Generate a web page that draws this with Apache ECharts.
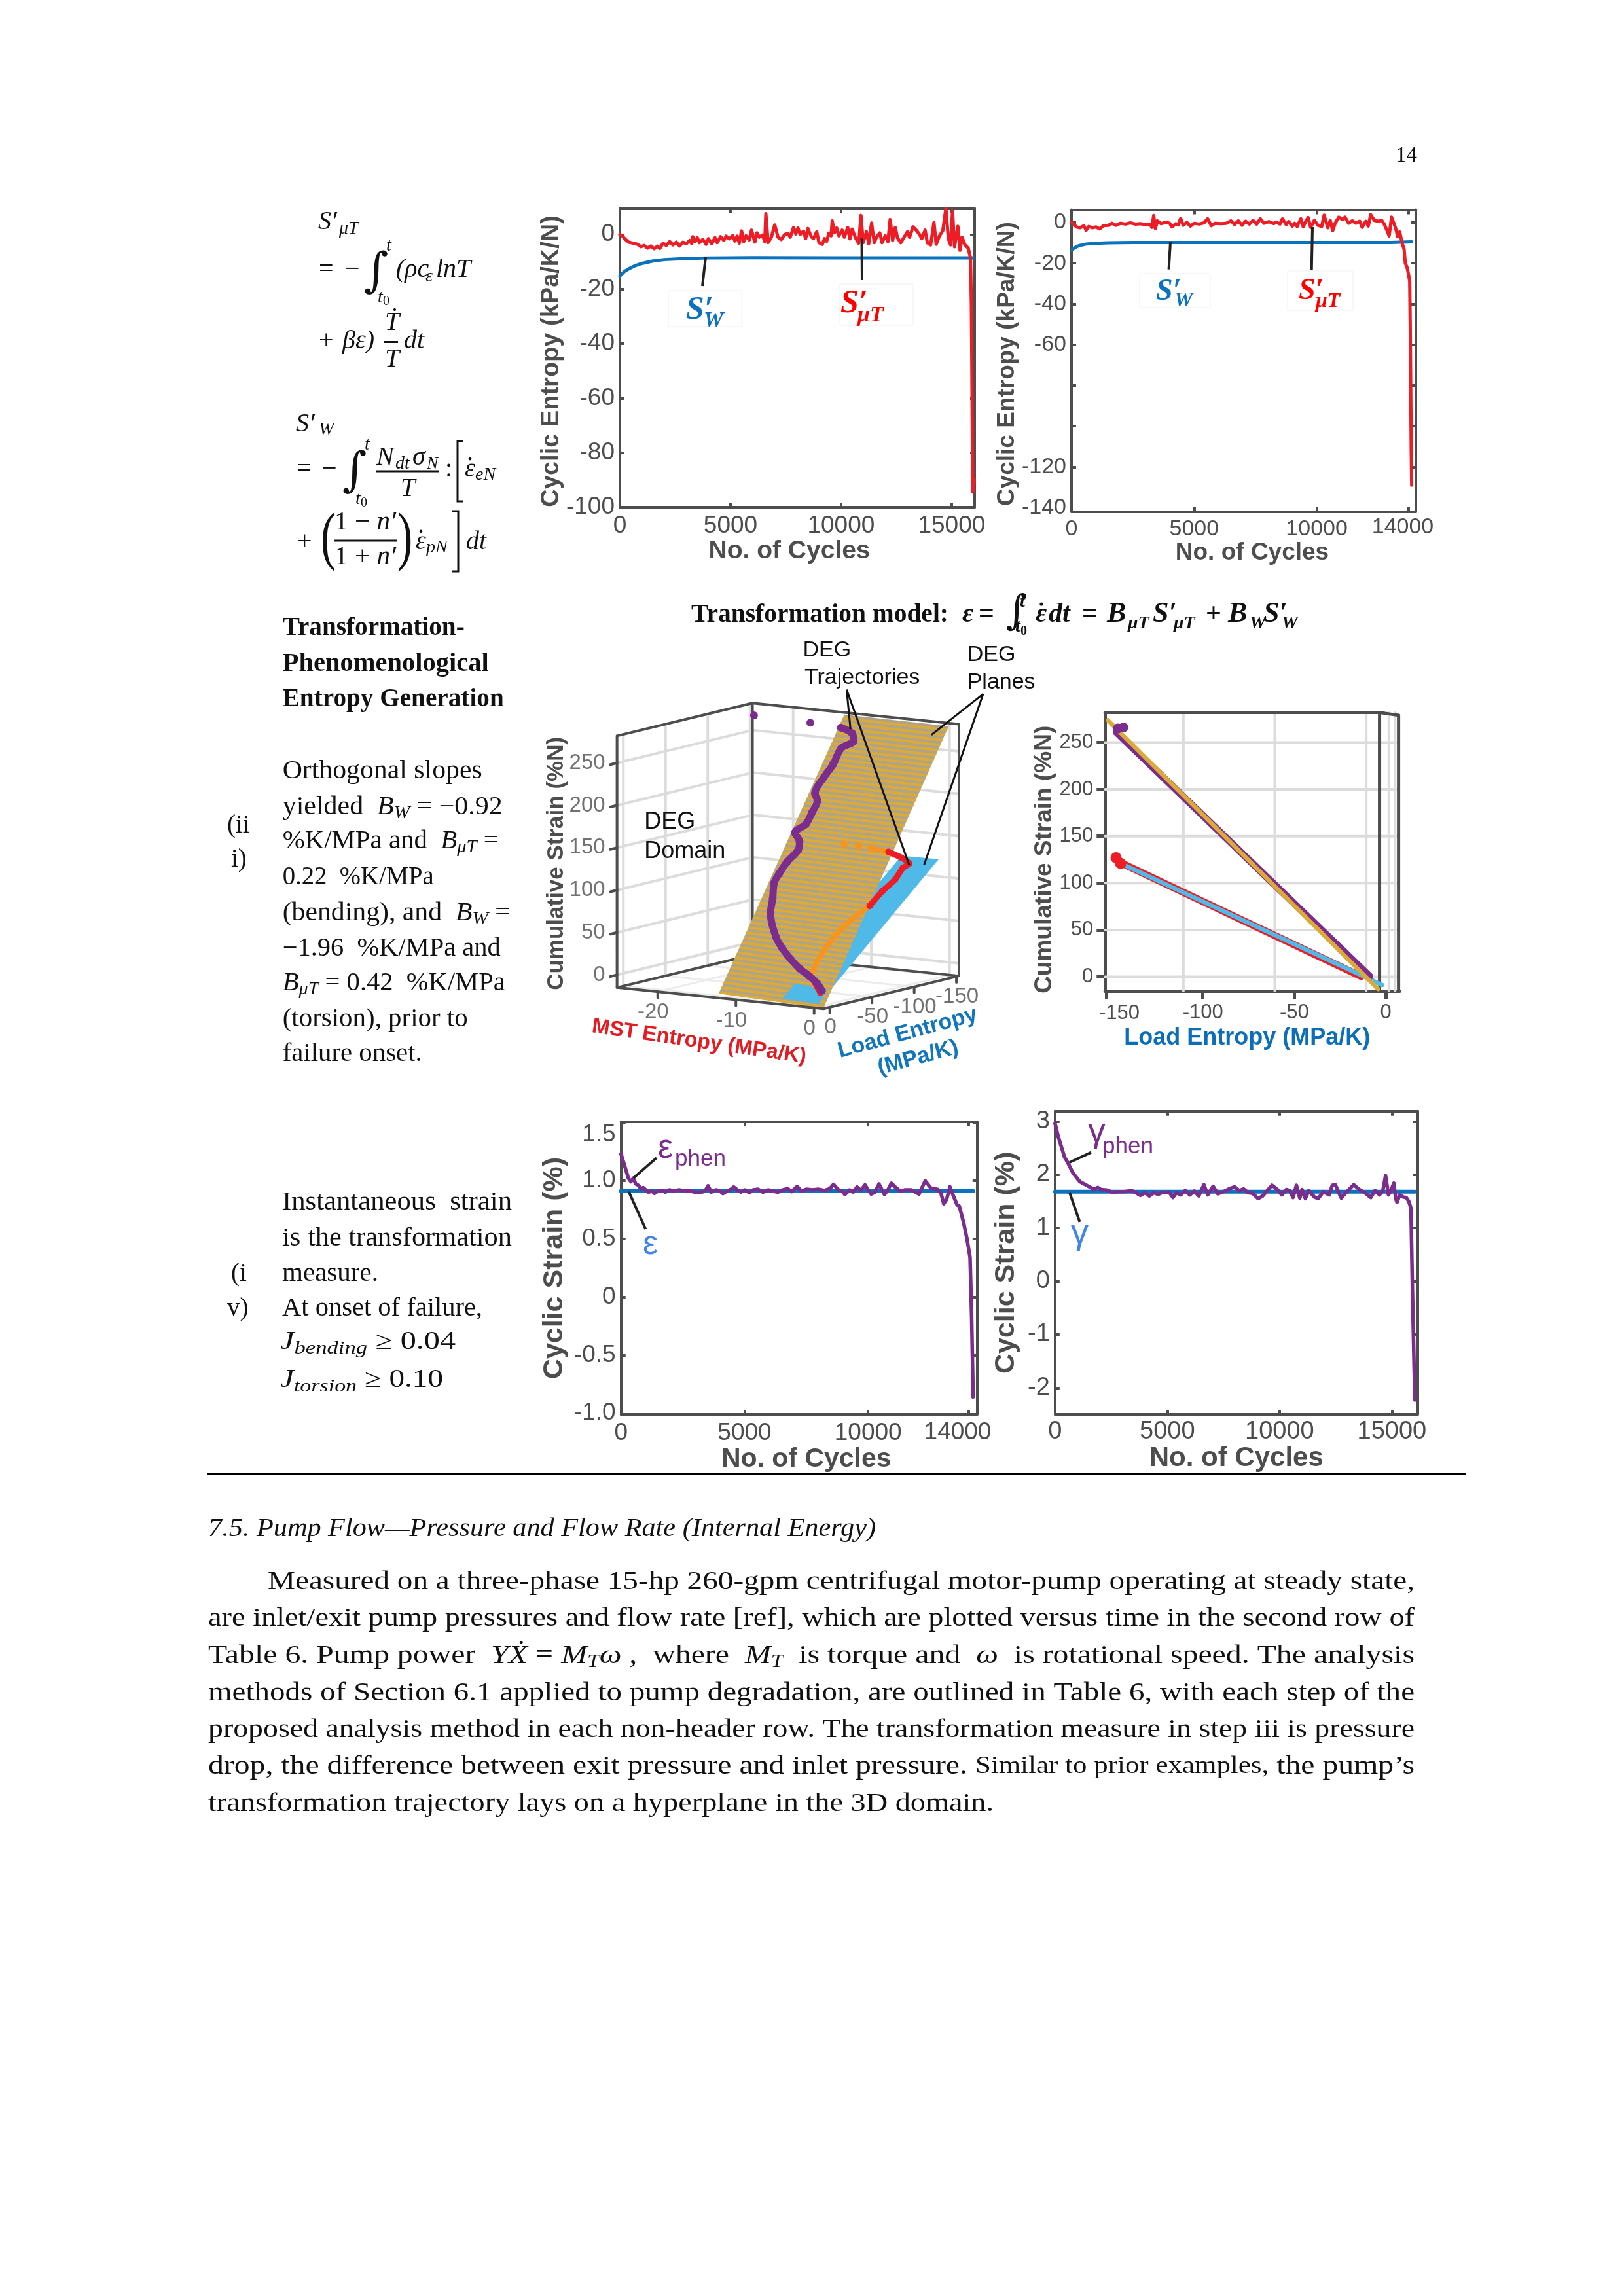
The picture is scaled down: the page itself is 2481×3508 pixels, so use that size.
<!DOCTYPE html>
<html><head><meta charset="utf-8">
<style>html,body{margin:0;padding:0;background:#fff}#c{width:2481px;height:3508px}</style>
<script src="https://cdn.jsdelivr.net/npm/echarts@6/dist/echarts.min.js"></script>
</head><body><div id="c"></div>
<script>
/* ---------- DATA ---------- */
const c1Cycles=[0,100,250,400,600,800,950,1100,1250,1400,1550,1700,1800,1950,2100,2250,2400,2550,2700,2850,3000,3150,3250,3300,3400,3500,3600,3750,3900,4000,4150,4300,4400,4550,4700,4800,4950,5100,5200,5300,5400,5500,5600,5700,5850,5950,6100,6200,6300,6450,6550,6600,6700,6850,7000,7150,7300,7450,7600,7700,7850,7950,8050,8150,8300,8400,8500,8650,8750,8900,9000,9150,9250,9350,9450,9550,9600,9700,9800,9900,10050,10150,10300,10400,10500,10650,10800,10900,11000,11150,11250,11380,11500,11600,11750,11850,12000,12120,12220,12330,12450,12550,12700,12850,13000,13100,13250,13400,13550,13650,13800,13900,14050,14200,14300,14450,14600,14740,14850,14950,15040,15130,15280,15380,15470,15600,15750,15850,15890,15915,15935,15955,16025];
const c1Mst=[0,-0.5,-1.8,-2.8,-3.2,-3.6,-4.5,-4,-5,-4.2,-5.2,-4.3,-5.1,-3.2,-4,-2.6,-3.8,-2.8,-4.2,-2.8,-3.4,-2.2,-3.4,-0.8,-2.6,-1.2,-3,-1.8,-3.6,-1.5,-3.4,-1.2,-3,-0.8,-2.2,-0.6,-1.6,-0.4,-2.4,-0.6,-3.2,1.3,-2.6,-0.5,-2,1.6,-2.8,0.6,-1,-0.2,-2.6,7.6,-3,-1,3.5,-1,-1.8,0,0.4,-1,2.6,0.2,2.4,0,1.2,-1.5,2.2,-0.8,-1.5,1,-3,-3.6,-1.5,-2.5,0.5,-0.5,5,0.6,2.4,-0.5,1.6,-1,2.6,-1.6,2,-1.2,-3.2,7,-3,1,-3.4,4.2,-3,-1,0.6,-3,-0.5,-2.6,5.5,-2.2,2.6,-1.2,-3,-1,1,-1,2.8,1.6,0,-1.5,1.6,-3,-3.8,4.4,-3.6,-0.5,1.4,9.5,-1.5,-3.8,8.5,-4.5,3,-5.8,-1,-3.8,-5,-8.5,-25,-50,-76,-94.5,-90];
const c1LoadCycles=[0,200,400,700,1000,1500,2000,3000,4000,6000,10000,15990];
const c1Load=[-15.2,-13.6,-12.6,-11.4,-10.6,-9.7,-9.2,-8.8,-8.6,-8.5,-8.6,-8.6];

const c2Cycles=[0,100,200,350,500,600,700,850,1000,1150,1300,1500,1650,1800,2000,2200,2400,2600,2800,3000,3200,3280,3350,3420,3500,3650,3850,4000,4100,4250,4350,4450,4550,4700,4850,5000,5200,5400,5550,5700,5850,6100,6300,6500,6650,6800,6950,7100,7250,7400,7550,7700,7850,8050,8250,8350,8500,8600,8750,8850,9000,9100,9200,9350,9450,9550,9650,9750,9900,10050,10200,10300,10450,10550,10650,10750,10900,11050,11150,11300,11450,11600,11750,11850,12000,12100,12200,12350,12500,12650,12750,12880,12950,13050,13150,13220,13300,13380,13450,13500,13560,13610,13680,13750,13790,13810,13830,13850,13870];
const c2Mst=[0,-1,-2.2,-2.6,-1.6,-3.8,-2,-2.6,-2.2,-3.2,-1.6,-1.4,-0.4,-1.4,-0.4,-0.8,-0.2,-0.8,-0.6,-1,-0.8,-2.4,3.4,-3,0.8,-0.6,0.2,-0.4,-2.2,-0.6,-1.2,2,-1.4,0,-1.8,-0.4,-0.8,-0.2,1.8,-1.6,-0.4,-0.6,-0.4,0.8,-1,0.8,-1.4,0.6,-0.8,1,-0.8,1.8,-0.4,0.4,-0.6,0.2,-0.8,1.8,-1,0.4,-1.8,-0.4,-2,1.8,-2.2,0.6,2.4,-2.4,1,-1.4,-2,3.6,-2.6,1,-4,-0.4,2.6,1.4,2.6,-0.4,0.8,-0.4,0.6,-2.4,0.6,-1.8,3.8,1,0.6,1,-0.8,-4.4,-6.6,2.6,-0.6,-3,-7,-4.6,-8.5,-11,-13,-20,-22,-26,-29,-50,-80,-110,-129];
const c2LoadCycles=[0,100,300,600,1000,1500,2500,5000,10000,13000,13870];
const c2Load=[-13.6,-12.6,-11.4,-10.6,-10.2,-10,-9.8,-9.8,-9.8,-9.8,-9.5];

const c5Cycles=[0,100,200,300,400,500,600,700,800,900,1000,1100,1250,1350,1500,1700,1800,1950,2150,2350,2600,2800,3000,3250,3400,3525,3650,3850,4000,4125,4300,4450,4560,4700,4850,5000,5200,5350,5550,5750,5950,6150,6350,6550,6750,6900,7125,7300,7500,7750,8000,8250,8450,8600,8800,8950,9060,9250,9400,9550,9700,9875,10000,10125,10280,10440,10660,10800,10940,11120,11310,11500,11750,12060,12310,12540,12810,12950,13060,13180,13310,13460,13600,13690,13875,14000,14125,14190,14250];
const c5Phen=[1.23,1.16,1.09,1.02,0.99,1.02,0.97,0.96,0.93,0.94,0.92,0.9,0.91,0.89,0.91,0.91,0.9,0.92,0.91,0.92,0.91,0.91,0.9,0.9,0.91,0.956,0.9,0.92,0.91,0.888,0.91,0.925,0.945,0.92,0.9,0.92,0.895,0.92,0.925,0.9,0.92,0.91,0.9,0.92,0.93,0.905,0.95,0.91,0.925,0.92,0.925,0.915,0.93,0.967,0.92,0.91,0.88,0.92,0.9,0.945,0.915,0.963,0.92,0.884,0.9,0.971,0.88,0.92,0.977,0.94,0.908,0.92,0.92,0.884,0.998,0.935,0.925,0.89,0.8,0.84,0.946,0.863,0.79,0.78,0.63,0.5,0.34,-0.18,-0.86];
const c5StrainCycles=[0,14250];
const c5Strain=[0.91,0.91];

const c6Cycles=[0,150,300,420,560,800,1100,1400,1750,1900,2050,2300,2600,2800,3100,3400,3600,3800,4000,4200,4400,4600,4800,5100,5250,5400,5600,5800,6000,6200,6400,6630,6800,7040,7250,7500,7800,8000,8200,8400,8600,8800,9040,9250,9450,9660,9900,10100,10300,10450,10600,10750,10900,11000,11150,11300,11550,11720,11950,12200,12350,12480,12750,12950,13300,13550,13800,14060,14250,14450,14600,14720,14850,14950,15090,15170,15230,15350,15500,15640,15750,15850,15920,15990,16030];
const c6Phen=[2.96,2.7,2.5,2.33,2.23,2.03,1.87,1.8,1.72,1.76,1.72,1.71,1.66,1.68,1.68,1.7,1.66,1.61,1.66,1.6,1.66,1.63,1.67,1.66,1.57,1.66,1.62,1.7,1.62,1.69,1.6,1.81,1.62,1.78,1.64,1.68,1.74,1.77,1.7,1.73,1.66,1.65,1.55,1.6,1.7,1.8,1.72,1.62,1.72,1.7,1.57,1.8,1.56,1.72,1.55,1.7,1.58,1.55,1.68,1.62,1.8,1.81,1.56,1.66,1.81,1.72,1.66,1.57,1.7,1.62,1.7,1.98,1.62,1.7,1.84,1.55,1.48,1.62,1.58,1.57,1.5,1.37,-0.23,-1.6,-2.23];
const c6StrainCycles=[0,16030];
const c6Strain=[1.68,1.68];

/* 3-D chart: MST entropy, load entropy, cumulative strain */
const bendPhenMst=[-0.76,-1.75,-3.13,-4.7,-6.43,-7.97,-9.4,-11.36,-11.9,-12.6,-12.5,-12.2,-11.5,-11.8,-12.85,-12,-11.9,-11.9,-12.6,-12.4,-12,-11.9,-10.8,-11.4,-13.1];
const bendPhenLoad=[-8.8,-12.3,-15.7,-19,-23.7,-28.6,-34.2,-46.1,-53.7,-62,-66.9,-73.3,-80,-84.6,-88.9,-94,-100.3,-106.7,-110.3,-119,-126.4,-135,-139.5,-143.2,-145.6];
const bendPhenStrain=[0.6,7.4,13.9,20.3,29.5,39,50,73,87.8,104,113.4,125.9,138.8,147.7,156,166,178.3,190.6,197.6,214.7,228.8,245.8,254.4,261.6,266.3];
const strayMst=[-24.4,-17.1], strayLoad=[-147.4,-146.5], strayStrain=[269.6,268];
const torsMst=[-0.96,-3.82,-4.62,-4.97,-4.66,-3.85,-3.82,-3.48,-3.7,-3.4,-4.9,-7,-9.4,-11.1,-13];
const torsLoad=[-8.8,-24,-40.8,-61,-78.8,-94,-108.6,-120.6,-132,-136.7,-141.4,-145.5,-147.3,-148,-148.5];
const torsStrain=[-3,11.3,27.1,46,62.8,77,90.8,102,112.9,117.2,121.6,125.5,127.2,127.9,128.3];
const goldPlane=[[-13.2,-1.8,-13],[0.4,0.15,-16.8],[0,-152,278.8],[-13.4,-152.6,279.8]];
const bluePlane=[[-4.92,-0.4,-10.9],[-0.13,0.8,-12],[-0.36,-143.5,123.6],[-5.1,-143.2,123.3]];
const bluePlaneFront=[[-4.92,-0.4,-10.9],[-0.13,0.8,-12],[-0.5,-12,0],[-4.96,-15.8,3.6]];
const mstTicks=[-20,-10,0], loadTicks=[0,-50,-100,-150], strainTicks=[0,50,100,150,200,250];
const mstRange=[-25.2,1.2], loadRange=[-153,7.5], strainRange=[-15,282];

/* 2-D projection chart: load entropy versus strain */
const planeLoadPurple=[-147.3,-8.8], planeStrainPurple=[261,0.5];
const planeLoadGold=[-152,-4.2], planeStrainGold=[273.7,-13];
const planeLoadRed=[-143.5,-13.5], planeStrainRed=[120.5,0.5];
const planeLoadBlue=[-142.7,-1.9], planeStrainBlue=[119,-8.7];
const purpleEnd=[[-146.5,265],[-143.5,266]], redEnd=[[-147.5,127],[-145,121]];
const c4GridX=[-110.7,-60.7,-10.7,1.7,5.1], c4GridY=[0,50,100,150,200,250];

/* ---------- HELPERS ---------- */
const INK='#4d4d4d', SANS='"Liberation Sans"', SERIF='"Liberation Serif"';
const RED='#ee1c25', BLUE='#0b72bd', PURPLE='#7b2d8e', GOLD='#dcaa36', SKY='#4fb9e8', ORANGE='#f7941d', GRIDC='#dcdcdc';
const BASE=0.25;
const grids=[],xAxes=[],yAxes=[],series=[],gfx=[];
const mctx=document.createElement('canvas').getContext('2d');
const zip=(a,b)=>a.map((v,i)=>[v,b[i]]);
function measure(t,font){mctx.font=font;return mctx.measureText(t).width;}
function T(t,x,y,o={}){ // y is the vertical centre
  gfx.push({type:'text',silent:true,z:o.z||50,x,y,rotation:o.rot||0,scaleX:o.sx||1,
    style:{text:t,font:`${o.style||''} ${o.size||36}px ${o.family||SANS}`,fill:o.color||INK,align:o.align||'center',verticalAlign:'middle'}});
}
function B(t,x,base,size,style='italic',o={}){ // baseline text, serif
  T(t,x,base-BASE*size,Object.assign({size,style,family:SERIF,color:'#111',align:'left'},o));
}
function runs(list,x,base,width,size){ // list: [text,style,relSize,dy]
  const fonts=list.map(r=>`${r[1]||''} ${size*(r[2]||1)}px ${SERIF}`);
  const ws=list.map((r,i)=>measure(r[0],fonts[i]));
  const tot=ws.reduce((a,b)=>a+b,0), sx=width?width/tot:1;
  let cx=x;
  list.forEach((r,i)=>{const s=size*(r[2]||1);
    T(r[0],cx,base+(r[3]||0)-BASE*s,{size:s,style:r[1]||'',family:SERIF,color:'#111',align:'left',sx});
    cx+=ws[i]*sx;});
}
function L(x1,y1,x2,y2,color='#111',w=3,z=40){
  gfx.push({type:'line',silent:true,z,shape:{x1,y1,x2,y2},style:{stroke:color,lineWidth:w}});
}
function dotAbove(x,y,r=2.4){
  gfx.push({type:'circle',silent:true,z:50,shape:{cx:x,cy:y,r},style:{fill:'#111'}});
}
function panel(c){
  const g=grids.length, ls={color:INK,width:c.frame||4};
  grids.push({left:c.box[0],top:c.box[1],width:c.box[2]-c.box[0],height:c.box[3]-c.box[1],show:false});
  const ax=(dim,pos,main)=>{
    const a={gridIndex:g,type:'value',position:pos,min:c[dim+'Range'][0],max:c[dim+'Range'][1],
      splitLine:{show:false},
      axisLine:{show:true,onZero:false,lineStyle:ls},
      axisTick:{show:true,inside:!c.outward,length:c.outward?13:7,lineStyle:ls,customValues:c[dim+'Ticks']},
      axisLabel:{show:main,margin:c[dim+'Margin'],fontFamily:SANS,fontSize:c.tick,color:INK,customValues:c[dim+'Labels'],
        formatter:c[dim+'Fmt']||(v=>String(v)),hideOverlap:false}};
    if(main && dim==='y' && c.topAlign) a.axisLabel.verticalAlignMaxLabel='top';
    if(main){
      const sh=c[dim+'Shift']||0;
      a.name=c[dim+'Name'];a.nameLocation='middle';a.nameGap=c[dim+'Gap'];
      a.nameTextStyle={fontFamily:SANS,fontWeight:'bold',fontSize:c[dim+'Size'],color:c[dim+'Color']||INK,
        padding:dim==='x'?(sh>0?[0,0,0,2*sh]:[0,-2*sh,0,0]):[0,2*sh,0,0]};
    }
    return a;
  };
  xAxes.push(ax('x','bottom',true)); yAxes.push(ax('y','left',true));
  if(!c.noMirror){xAxes.push(ax('x','top',false)); yAxes.push(ax('y','right',false));}
  return {x:xAxes.length-(c.noMirror?1:2),y:yAxes.length-(c.noMirror?1:2)};
}
function lineS(ids,data,color,width,z=5,extra={}){
  series.push(Object.assign({type:'line',xAxisIndex:ids.x,yAxisIndex:ids.y,data,showSymbol:false,symbol:'none',silent:true,
    clip:false,z,lineStyle:{color,width,cap:'round',join:'round'},animation:false},extra));
}
function dotsS(ids,data,color,size,z=6,opacity=1){
  series.push({type:'scatter',xAxisIndex:ids.x,yAxisIndex:ids.y,data,symbol:'circle',symbolSize:size,silent:true,clip:false,z,
    itemStyle:{color,opacity},animation:false});
}

/* ---------- PANEL 1 ---------- */
const p1=panel({box:[947,318.7,1489,775],xRange:[0,16040],yRange:[-100,9.5],
  xTicks:[0,5000,10000,15000],xLabels:[0,5000,10000,15000],yTicks:[-100,-80,-60,-40,-20,0],yLabels:[-100,-80,-60,-40,-20,0],
  tick:37,xMargin:10,yMargin:8,xName:'No. of Cycles',xGap:44,xSize:39,xShift:-12,yName:'Cyclic Entropy (kPa/K/N)',yGap:75,ySize:38,yShift:5});
lineS(p1,zip(c1LoadCycles,c1Load),BLUE,5,5);
lineS(p1,zip(c1Cycles,c1Mst),RED,5,6);

/* ---------- PANEL 2 ---------- */
const p2=panel({box:[1637,320.6,2163,781.8],xRange:[0,14040],yRange:[-142,6.2],
  xTicks:[0,5000,10000,13730],xLabels:[0,5000,10000],yTicks:[-120,-100,-80,-60,-40,-20,0],yLabels:[-140,-120,-60,-40,-20,0],
  tick:34,xMargin:10,yMargin:8,xName:'No. of Cycles',xGap:37,xSize:37,xShift:13,yName:'Cyclic Entropy (kPa/K/N)',yGap:65,ySize:37,yShift:5});
lineS(p2,zip(c2LoadCycles,c2Load),BLUE,5,5);
lineS(p2,zip(c2Cycles,c2Mst),RED,5,6);
T('14000',2143,806,{size:34});

/* ---------- PANEL 5 ---------- */
const p5=panel({box:[948.7,1714,1492.8,2161],xRange:[0,14412],yRange:[-1.01,1.505],
  xTicks:[0,5000,10000,14060],xLabels:[0,5000,10000],yTicks:[-0.5,0,0.5,1,1.5],yLabels:[-1,-0.5,0,0.5,1,1.5],
  yFmt:v=>v===0?'0':v.toFixed(1),topAlign:true,tick:37,xMargin:10,yMargin:8,
  xName:'No. of Cycles',xGap:37,xSize:41,xShift:11,yName:'Cyclic Strain (%)',yGap:80,ySize:43});
lineS(p5,zip(c5StrainCycles,c5Strain),BLUE,6,5);
lineS(p5,zip(c5Cycles,c5Phen),PURPLE,5.5,6);
T('14000',1463,2189,{size:37});

/* ---------- PANEL 6 ---------- */
const p6=panel({box:[1611.8,1697.8,2165.8,2161],xRange:[0,16150],yRange:[-2.5,3.19],
  xTicks:[0,5000,10000,15000],xLabels:[0,5000,10000,15000],yTicks:[-2,-1,0,1,2,3],yLabels:[-2,-1,0,1,2,3],
  tick:38,xMargin:8,yMargin:8,xName:'No. of Cycles',xGap:37,xSize:42,yName:'Cyclic Strain (%)',yGap:53,ySize:43});
lineS(p6,zip(c6StrainCycles,c6Strain),BLUE,6,5);
lineS(p6,zip(c6Cycles,c6Phen),PURPLE,5.5,6);

/* ---------- PANEL 4 (projection) ---------- */
const p4=panel({box:[1688.3,1088.6,2138,1514],xRange:[-153.5,7.5],yRange:[-15,282],noMirror:true,outward:true,frame:5,
  xTicks:[-152.7,-100,-50,0],xLabels:[-100,-50,0],yTicks:[0,50,100,150,200,250],yLabels:[0,50,100,150,200,250],
  tick:31,xMargin:18,yMargin:18,xName:'Load Entropy (MPa/K)',xGap:54,xSize:36,xShift:-8,xColor:'#0b6fb8',
  yName:'Cumulative Strain (%N)',yGap:74,ySize:37,yShift:12});
c4GridY.forEach(v=>lineS(p4,[[-153.5,v],[6.5,v]],GRIDC,4,1));
c4GridX.forEach(v=>lineS(p4,[[v,-15],[v,282]],GRIDC,4,1));
lineS(p4,[[-153.5,282],[-3.4,282]],INK,5,3);
lineS(p4,[[-3.4,-15],[-3.4,282]],INK,5,3);
lineS(p4,[[-3.4,282],[7,279]],INK,5,3);
lineS(p4,[[7,279],[7,-15]],INK,5,3);
lineS(p4,zip(planeLoadRed,planeStrainRed),RED,11,5);
lineS(p4,zip(planeLoadBlue,planeStrainBlue),SKY,6.5,6);
lineS(p4,zip(planeLoadPurple,planeStrainPurple),PURPLE,11,7);
lineS(p4,zip(planeLoadGold,planeStrainGold),GOLD,6.5,8);
dotsS(p4,redEnd,RED,17,6);
dotsS(p4,purpleEnd,PURPLE,15,9);
T('-150',1710,1548,{size:31});

/* ---------- PANEL 3 (3-D view) ---------- */
const P=(m,l,s)=>[935.4+24.65*m-2.66*l,1250-2.9*s+2.75*m+0.70*l];
const PP=a=>P(a[0],a[1],a[2]);
const z3x=x=>800+x/2.063, z3y=y=>960+y/2.24;
const g3=grids.length;
grids.push({left:800,top:960,width:760,height:700,show:false});
const hid=(inv)=>({gridIndex:g3,type:'value',min:0,max:1568,show:false,inverse:inv});
xAxes.push(hid(false)); yAxes.push(hid(true));
const p3={x:xAxes.length-1,y:yAxes.length-1};
const [mA,mB]=mstRange,[lA,lB]=loadRange,[sA,sB]=strainRange;
function segs(list){const out=[];list.forEach(q=>{out.push(PP(q[0]),PP(q[1]),['-','-']);});return out;}
const wallLines=[];
strainTicks.forEach(s=>{wallLines.push([[mA,lB,s],[mA,lA,s]],[[mA,lA,s],[mB,lA,s]]);});
loadTicks.forEach(l=>wallLines.push([[mA,l,sA],[mA,l,sB]]));
mstTicks.forEach(m=>wallLines.push([[m,lA,sA],[m,lA,sB]]));
lineS(p3,segs(wallLines),GRIDC,4,1);
const floorLines=[];
loadTicks.forEach(l=>floorLines.push([[mA,l,sA],[mB,l,sA]]));
mstTicks.forEach(m=>floorLines.push([[m,lA,sA],[m,lB,sA]]));
lineS(p3,segs(floorLines),'#ececec',3,1);
const frame3=[[[mA,lB,sA],[mA,lB,sB]],[[mA,lB,sB],[mA,lA,sB]],[[mA,lA,sB],[mB,lA,sB]],[[mB,lA,sB],[mB,lA,sA]],
  [[mA,lA,sB],[mA,lA,sA]],[[mA,lB,sA],[mA,lA,sA]],[[mA,lA,sA],[mB,lA,sA]]];
lineS(p3,segs(frame3),INK,4,2);
function polyS(corners,fill,z,stripes){
  series.push({type:'custom',xAxisIndex:p3.x,yAxisIndex:p3.y,coordinateSystem:'cartesian2d',data:[[0,0]],silent:true,clip:false,z,animation:false,
    renderItem:(params,api)=>{
      const pts=corners.map(c=>api.coord(PP(c)));
      const kids=[{type:'polygon',shape:{points:pts},style:{fill}}];
      if(stripes){
        const lerp=(a,b,t)=>[a[0]+(b[0]-a[0])*t,a[1]+(b[1]-a[1])*t];
        for(let k=0;k<stripes.n;k++){
          const v0=k/stripes.n,v1=(k+0.5)/stripes.n;
          kids.push({type:'polygon',shape:{points:[lerp(pts[0],pts[3],v0),lerp(pts[1],pts[2],v0),lerp(pts[1],pts[2],v1),lerp(pts[0],pts[3],v1)]},style:{fill:stripes.color}});
        }
      }
      return {type:'group',children:kids};
    }});
}
polyS(bluePlane,SKY,3);
polyS(goldPlane,'#b0a488',4,{n:56,color:GOLD});
polyS(bluePlaneFront,SKY,5);
// floor edges in front of the planes
lineS(p3,segs([[[mA,lB,sA],[mB,lB,sA]],[[mB,lB,sA],[mB,lA,sA]]]),INK,4,6);
// ticks
const tick3=[];
mstTicks.forEach(m=>tick3.push([[m,lB,sA],[m,lB,sA-7]]));
loadTicks.forEach(l=>tick3.push([[mB,l,sA],[mB,l,sA-7]]));
strainTicks.forEach(s=>tick3.push([[mA,lB,s],[mA,lB+8,s]]));
lineS(p3,segs(tick3),INK,4,6);
function tickLabels(points,fmt,labelOpt){
  series.push({type:'scatter',xAxisIndex:p3.x,yAxisIndex:p3.y,data:points.map(p=>({value:p.xy,name:p.t})),symbolSize:0,silent:true,clip:false,z:7,animation:false,
    label:Object.assign({show:true,formatter:d=>d.name,fontFamily:SANS,fontSize:33,color:INK},labelOpt)});
}
tickLabels(mstTicks.map(m=>({xy:P(m,lB,sA),t:String(m)})),null,{position:'inside',offset:[-7,32]});
tickLabels(loadTicks.map(l=>({xy:P(mB,l,sA),t:String(l)})),null,{position:'inside',offset:[1,31]});
tickLabels(strainTicks.map(s=>({xy:P(mA,lB,s),t:String(s)})),null,{position:'left',distance:18});
// trajectories
lineS(p3,zip(bendPhenMst,bendPhenLoad).map((v,i)=>P(v[0],v[1],bendPhenStrain[i])),PURPLE,11,12,{smooth:0.35,showSymbol:true,symbol:'circle',symbolSize:12,itemStyle:{color:PURPLE}});
dotsS(p3,strayMst.map((m,i)=>P(m,strayLoad[i],strayStrain[i])),PURPLE,12,12);
const tors3=torsMst.map((m,i)=>P(m,torsLoad[i],torsStrain[i]));
lineS(p3,tors3.slice(0,2),RED,8,10);
lineS(p3,tors3.slice(1,6),ORANGE,8,10,{smooth:0.3});
lineS(p3,tors3.slice(5,12),RED,9,11,{smooth:0.2,showSymbol:true,symbol:'circle',symbolSize:10,itemStyle:{color:RED}});
lineS(p3,tors3.slice(11,13),ORANGE,7,10);
dotsS(p3,tors3.slice(12),ORANGE,11,10);

/* 3-D view texts and leaders */
T('Cumulative Strain (%N)',z3x(103),z3y(805),{size:35,style:'bold',rot:Math.PI/2});
T('MST Entropy (MPa/K)',z3x(553),z3y(1415),{size:32.5,style:'bold',color:'#e31b23',rot:-0.143});
T('Load Entropy',z3x(1210),z3y(1385),{size:34,style:'bold',color:'#1276bd',rot:0.265});
T('(MPa/K)',z3x(1243),z3y(1470),{size:34,style:'bold',color:'#1276bd',rot:0.265});
const TXT='#111';
T('DEG',z3x(880),z3y(76),{size:34,color:TXT,align:'left'});
T('Trajectories',z3x(885),z3y(169),{size:34,color:TXT,align:'left'});
T('DEG',z3x(1398),z3y(92),{size:34,color:TXT,align:'left'});
T('Planes',z3x(1398),z3y(186),{size:34,color:TXT,align:'left'});
T('DEG',z3x(380),z3y(664),{size:36,color:TXT,align:'left'});
T('Domain',z3x(380),z3y(764),{size:36,color:TXT,align:'left'});
L(z3x(1018),z3y(210),z3x(1030),z3y(345));
L(z3x(1018),z3y(210),z3x(1215),z3y(810));
L(z3x(1448),z3y(225),z3x(1285),z3y(365));
L(z3x(1448),z3y(225),z3x(1262),z3y(810));

/* ---------- annotations on 2-D charts ---------- */
function boxS(x1,y1,x2,y2){gfx.push({type:'rect',silent:true,z:20,shape:{x:x1,y:y1,width:x2-x1,height:y2-y1},style:{fill:'#fff',stroke:'#efefef',lineWidth:1}});}
boxS(1021,444,1133,499);boxS(1283,434,1395,497);
L(1078,393,1073,437,'#222',4);L(1316.5,364.6,1317,428,'#222',4);
B('S\u2032',1048,487,50,'italic bold',{color:BLUE});B('W',1075,499,34,'italic bold',{color:BLUE});
B('S\u2032',1284,477,50,'italic bold',{color:'#f00'});B('\u03bcT',1310,491,34,'italic bold',{color:'#f00'});
boxS(1741,418,1849,470);boxS(1967,414,2067,474);
L(1788,370,1785.6,411.7,'#222',4);L(2005,347,2003.7,413,'#222',4);
B('S\u2032',1766,458,46,'italic bold',{color:BLUE});B('W',1794,468,32,'italic bold',{color:BLUE});
B('S\u2032',1984,457,46,'italic bold',{color:'#f00'});B('\u03bcT',2010,469,32,'italic bold',{color:'#f00'});
L(1003,1769,967.5,1800,'#222',4);L(960.5,1820.6,986.4,1878,'#222',4);
T('\u03b5',1005,1755,{size:52,color:PURPLE,align:'left'});T('phen',1031,1771,{size:35,color:PURPLE,align:'left'});
T('\u03b5',982,1902,{size:52,color:'#4285e8',align:'left'});
L(1634,1776,1667,1760.6,'#222',4);L(1634,1822,1649.5,1867,'#222',4);
T('\u03b3',1662,1730,{size:54,color:PURPLE,align:'left'});T('phen',1684,1752,{size:35,color:PURPLE,align:'left'});
T('\u03b3',1636,1885,{size:54,color:'#4285e8',align:'left'});

/* ---------- page text ---------- */
const BODY=41;
T('14',2165,238,{size:33,family:SERIF,color:'#111',align:'right'});
runs([['Transformation-','bold']],431.7,970,278,39);
runs([['Phenomenological','bold']],431.7,1025,315,39);
runs([['Entropy Generation','bold']],431.7,1079,338,39);
runs([['Orthogonal slopes']],431.7,1188,305,39);
runs([['yielded  '],['B','italic'],['W','italic',.7,7],[' = \u22120.92']],431.7,1243,336,39);
runs([['%K/MPa and  '],['B','italic'],['\u03bcT','italic',.7,7],[' =']],431.7,1295,330,39);
runs([['0.22  %K/MPa']],431.7,1350,231,39);
runs([['(bending), and  '],['B','italic'],['W','italic',.7,7],[' =']],431.7,1405,348,39);
runs([['\u22121.96  %K/MPa and']],431.7,1459,333,39);
runs([['B','italic'],['\u03bcT','italic',.7,7],[' = 0.42  %K/MPa']],431.7,1512,340,39);
runs([['(torsion), prior to']],431.7,1567,283,39);
runs([['failure onset.']],431.7,1620,213,39);
runs([['(ii']],347,1271,0,39);runs([['i)']],353,1323,0,39);
runs([['Instantaneous  strain']],431,1847,351,39);
runs([['is the transformation']],431,1902,351,39);
runs([['measure.']],431,1956,147,39);
runs([['At onset of failure,']],431,2009,306,39);
runs([['J','italic'],['bending','italic',.72,8],[' \u2265 0.04']],428,2060,268,39);
runs([['J','italic'],['torsion','italic',.72,8],[' \u2265 0.10']],428,2118,249,39);
runs([['(i']],353,1956,0,39);runs([['v)']],347,2009,0,39);
gfx.push({type:'rect',silent:true,z:30,shape:{x:316,y:2250,width:1923,height:4},style:{fill:'#000'}});
runs([['7.5. Pump Flow\u2014Pressure and Flow Rate (Internal Energy)','italic']],318,2346,1020,BODY);
runs([['Measured on a three-phase 15-hp 260-gpm centrifugal motor-pump operating at steady state,']],409,2427,1752,BODY);
runs([['are inlet/exit pump pressures and flow rate [ref], which are plotted versus time in the second row of']],318,2483,1843,BODY);
runs([['Table 6. Pump power  '],['YX\u0307','italic'],[' = ','bold'],['M','italic'],['T','italic',.7,7],['\u03c9','italic'],[' ,  where  '],['M','italic'],['T','italic',.7,7],['  is torque and  '],['\u03c9','italic'],['  is rotational speed. The analysis']],318,2540,1843,BODY);
runs([['methods of Section 6.1 applied to pump degradation, are outlined in Table 6, with each step of the']],318,2597,1843,BODY);
runs([['proposed analysis method in each non-header row. The transformation measure in step iii is pressure']],318,2653,1843,BODY);
runs([['drop, the difference between exit pressure and inlet pressure. '],['Similar to prior examples,','',.9],[' the pump\u2019s']],318,2709,1843,BODY);
runs([['transformation trajectory lays on a hyperplane in the 3D domain.']],318,2766,1200,BODY);

/* transformation-model heading */
runs([['Transformation model:','bold']],1056,950,393,BODY);
const BI='italic bold';
B('\u03b5',1470,950,42,BI);B('=',1495,950,42,'bold');
B('\u222b',1537,952,62,'',{family:'"DejaVu Serif"'});
B('t',1558,927,28,BI);B('t',1551,965,28,BI);B('0',1559,970,20,'bold');
B('\u03b5',1582,950,42,BI);dotAbove(1591,923,2.6);B('dt',1602,950,42,BI);B('=',1653,950,42,'bold');
B('B',1691,950,44,BI);B('\u03bcT',1723,960,28,BI);
B('S\u2032',1761,950,44,BI);B('\u03bcT',1793,960,28,BI);
B('+',1842,950,42,'bold');
B('B',1876,950,44,BI);B('W',1909,960,28,BI);
B('S\u2032',1930,950,44,BI);B('W',1958,960,28,BI);

/* left formulas */
const MF=40,MS=28;
B('S\u2032',486,349,MF);B('\u03bcT',518,357,MS);
B('=',487,422,MF,'');B('\u2212',527,422,MF,'');
B('\u222b',556,436,72,'',{family:'"DejaVu Serif"'});
B('t',590,383,MS);B('t',577,462,MS);B('0',585,466,20,'');
B('(\u03c1c',605,422,MF);B('\u03b5',650,430,MS);B('lnT',666,422,MF);
B('+',487,531,MF,'');B('\u03b2\u03b5)',523,531,MF);
B('T\u0307',588,503,MF);L(587,522.5,608,522.5,'#111',3);B('T',588,559,MF);B('dt',617,531,MF);

B('S\u2032',452,658,MF);B('W',487,664,MS);
B('=',453,727,MF,'');B('\u2212',492,727,MF,'');
B('\u222b',523,741,72,'',{family:'"DejaVu Serif"'});
B('t',557,687,MS);B('t',543,770,MS);B('0',551,774,20,'');
B('N',575,709,MF);B('dt',604,716,MS);B('\u03c3',630,709,MF);B('N',652,716,MS-2);
L(575,720,670,720,'#111',3);B('T',612,757,MF);
B(':',680,727,MF,'');
gfx.push({type:'polyline',silent:true,z:40,shape:{points:[[707,674],[699,674],[699,766],[707,766]]},style:{stroke:'#111',lineWidth:3,fill:'none'}});
B('\u03b5',710,727,MF);dotAbove(718,701);B('eN',726,733,MS);
B('+',454,838,MF,'');
T('(',490,826,{size:100,family:SERIF,color:'#111',align:'left',style:'',sx:0.7});
runs([['1 \u2212 '],['n\u2032','italic']],511,808,94,MF);
L(510,826,606,826,'#111',3);
runs([['1 + '],['n\u2032','italic']],511,861,94,MF);
T(')',607,826,{size:100,family:SERIF,color:'#111',align:'left',style:'',sx:0.7});
B('\u03b5',635,838,MF);dotAbove(643,812);B('pN',651,844,MS);
gfx.push({type:'polyline',silent:true,z:40,shape:{points:[[690,781],[700,781],[700,873],[690,873]]},style:{stroke:'#111',lineWidth:3,fill:'none'}});
B('dt',712,838,MF);

/* ---------- CHART ---------- */
const chart=echarts.init(document.getElementById('c'),null,{renderer:'canvas',width:2481,height:3508});
chart.setOption({animation:false,backgroundColor:'#fff',tooltip:{show:false},legend:{show:false},
  grid:grids,xAxis:xAxes,yAxis:yAxes,series,graphic:{elements:gfx}});
</script></body></html>
